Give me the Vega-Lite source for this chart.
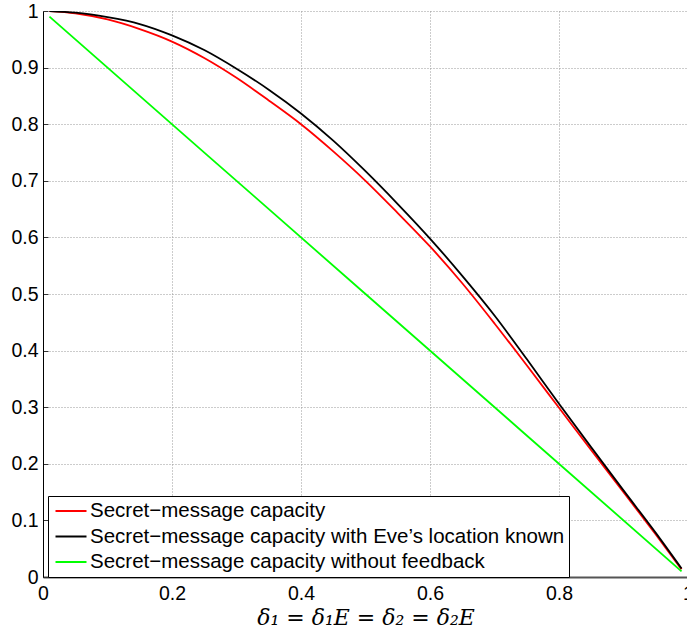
{
  "$schema": "https://vega.github.io/schema/vega-lite/v6.json",
  "width": 645,
  "height": 566,
  "autosize": {"type": "none"},
  "padding": {"left": 43, "top": 11, "right": 0, "bottom": 56},
  "background": "white",
  "config": {
    "view": {"stroke": null},
    "font": "Liberation Sans"
  },
  "data": {
    "values": [
      {"d": 0.01, "v": 0.9999, "s": "Secret−message capacity"},
      {"d": 0.05, "v": 0.996, "s": "Secret−message capacity"},
      {"d": 0.1, "v": 0.985, "s": "Secret−message capacity"},
      {"d": 0.15, "v": 0.968, "s": "Secret−message capacity"},
      {"d": 0.2, "v": 0.946, "s": "Secret−message capacity"},
      {"d": 0.25, "v": 0.917, "s": "Secret−message capacity"},
      {"d": 0.3, "v": 0.882, "s": "Secret−message capacity"},
      {"d": 0.35, "v": 0.842, "s": "Secret−message capacity"},
      {"d": 0.4, "v": 0.8, "s": "Secret−message capacity"},
      {"d": 0.45, "v": 0.752, "s": "Secret−message capacity"},
      {"d": 0.5, "v": 0.7, "s": "Secret−message capacity"},
      {"d": 0.55, "v": 0.643, "s": "Secret−message capacity"},
      {"d": 0.6, "v": 0.584, "s": "Secret−message capacity"},
      {"d": 0.65, "v": 0.519, "s": "Secret−message capacity"},
      {"d": 0.7, "v": 0.448, "s": "Secret−message capacity"},
      {"d": 0.75, "v": 0.374, "s": "Secret−message capacity"},
      {"d": 0.8, "v": 0.299, "s": "Secret−message capacity"},
      {"d": 0.85, "v": 0.224, "s": "Secret−message capacity"},
      {"d": 0.9, "v": 0.15, "s": "Secret−message capacity"},
      {"d": 0.95, "v": 0.075, "s": "Secret−message capacity"},
      {"d": 0.99, "v": 0.0136, "s": "Secret−message capacity"},
      {"d": 0.01, "v": 0.9999, "s": "Secret−message capacity with Eve’s location known"},
      {"d": 0.05, "v": 0.997, "s": "Secret−message capacity with Eve’s location known"},
      {"d": 0.1, "v": 0.989, "s": "Secret−message capacity with Eve’s location known"},
      {"d": 0.15, "v": 0.977, "s": "Secret−message capacity with Eve’s location known"},
      {"d": 0.2, "v": 0.957, "s": "Secret−message capacity with Eve’s location known"},
      {"d": 0.25, "v": 0.931, "s": "Secret−message capacity with Eve’s location known"},
      {"d": 0.3, "v": 0.898, "s": "Secret−message capacity with Eve’s location known"},
      {"d": 0.35, "v": 0.861, "s": "Secret−message capacity with Eve’s location known"},
      {"d": 0.4, "v": 0.819, "s": "Secret−message capacity with Eve’s location known"},
      {"d": 0.45, "v": 0.771, "s": "Secret−message capacity with Eve’s location known"},
      {"d": 0.5, "v": 0.717, "s": "Secret−message capacity with Eve’s location known"},
      {"d": 0.55, "v": 0.659, "s": "Secret−message capacity with Eve’s location known"},
      {"d": 0.6, "v": 0.598, "s": "Secret−message capacity with Eve’s location known"},
      {"d": 0.65, "v": 0.532, "s": "Secret−message capacity with Eve’s location known"},
      {"d": 0.7, "v": 0.462, "s": "Secret−message capacity with Eve’s location known"},
      {"d": 0.75, "v": 0.385, "s": "Secret−message capacity with Eve’s location known"},
      {"d": 0.8, "v": 0.306, "s": "Secret−message capacity with Eve’s location known"},
      {"d": 0.85, "v": 0.229, "s": "Secret−message capacity with Eve’s location known"},
      {"d": 0.9, "v": 0.153, "s": "Secret−message capacity with Eve’s location known"},
      {"d": 0.95, "v": 0.078, "s": "Secret−message capacity with Eve’s location known"},
      {"d": 0.99, "v": 0.015, "s": "Secret−message capacity with Eve’s location known"},
      {"d": 0.01, "v": 0.99, "s": "Secret−message capacity without feedback"},
      {"d": 0.5, "v": 0.5, "s": "Secret−message capacity without feedback"},
      {"d": 0.99, "v": 0.01, "s": "Secret−message capacity without feedback"}
    ]
  },
  "mark": {"type": "line", "strokeWidth": 1.8, "clip": true, "interpolate": "monotone"},
  "encoding": {
    "x": {
      "field": "d",
      "type": "quantitative",
      "scale": {"domain": [0, 1], "nice": false, "zero": false},
      "axis": {
        "values": [0, 0.2, 0.4, 0.6, 0.8, 1],
        "format": "~g",
        "title": "δ₁ = δ₁E = δ₂ = δ₂E",
        "titleFont": "DejaVu Serif",
        "titleFontStyle": "italic",
        "titleFontWeight": "normal",
        "titleFontSize": 22,
        "titleColor": "black",
        "titlePadding": 5,
        "labelFont": "Liberation Sans",
        "labelFontSize": 19.5,
        "labelColor": "black",
        "labelFlush": false,
        "labelOverlap": false,
        "labelPadding": 12,
        "tickSize": -5,
        "tickColor": "#333",
        "domainColor": "#555",
        "domainWidth": 2,
        "grid": true,
        "gridDash": [1, 2],
        "gridColor": "#999",
        "gridOpacity": 1
      }
    },
    "y": {
      "field": "v",
      "type": "quantitative",
      "scale": {"domain": [0, 1], "nice": false, "zero": false},
      "axis": {
        "values": [0, 0.1, 0.2, 0.3, 0.4, 0.5, 0.6, 0.7, 0.8, 0.9, 1],
        "format": "~g",
        "title": null,
        "labelFont": "Liberation Sans",
        "labelFontSize": 19.5,
        "labelColor": "black",
        "labelFlush": false,
        "labelOverlap": false,
        "labelPadding": 10,
        "tickSize": -5,
        "tickColor": "#333",
        "domainColor": "black",
        "domainWidth": 1,
        "grid": true,
        "gridDash": [1, 2],
        "gridColor": "#999",
        "gridOpacity": 1
      }
    },
    "color": {
      "field": "s",
      "type": "nominal",
      "sort": ["Secret−message capacity", "Secret−message capacity with Eve’s location known", "Secret−message capacity without feedback"],
      "scale": {
        "domain": ["Secret−message capacity", "Secret−message capacity with Eve’s location known", "Secret−message capacity without feedback"],
        "range": ["#ff0000", "#000000", "#00ff00"]
      },
      "legend": {
        "orient": "none",
        "legendX": 5,
        "legendY": 485,
        "title": null,
        "symbolType": "M-1.55,0H1.55",
        "symbolSize": 400,
        "symbolStrokeWidth": 2,
        "symbolOffset": 8,
        "labelFont": "Liberation Sans",
        "labelFontSize": 20.5,
        "labelColor": "black",
        "labelLimit": 600,
        "labelOffset": 8,
        "rowPadding": 3.5,
        "padding": 4,
        "strokeColor": "black",
        "fillColor": "white",
        "cornerRadius": 0
      }
    }
  }
}
